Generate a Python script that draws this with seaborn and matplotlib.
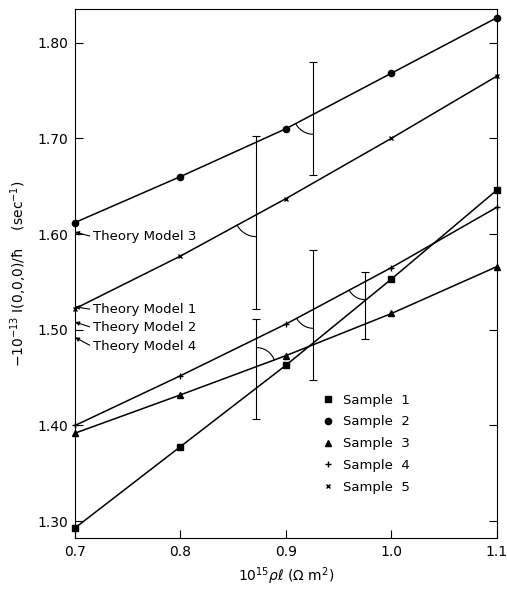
import numpy as np
import matplotlib
matplotlib.use('Agg')
import matplotlib.pyplot as plt
import seaborn as sns
import pandas as pd
from matplotlib.lines import Line2D

# ---------------- data ----------------
x_vals = [0.7, 0.8, 0.9, 1.0, 1.1]
sample1 = [1.293, 1.378, 1.463, 1.553, 1.646]
sample2 = [1.612, 1.660, 1.710, 1.768, 1.826]
sample3 = [1.392, 1.432, 1.473, 1.517, 1.566]
sample4 = [1.400, 1.452, 1.506, 1.565, 1.628]
sample5 = [1.522, 1.577, 1.637, 1.700, 1.765]
sample_names = ["Sample  1", "Sample  2", "Sample  3", "Sample  4", "Sample  5"]
sample_markers = ['s', 'o', '^', '+', 'x']

bar_x = [0.872, 0.926, 0.872, 0.926, 0.975]
bar_low = [1.522, 1.662, 1.407, 1.448, 1.490]
bar_high = [1.702, 1.780, 1.511, 1.583, 1.560]

theory_labels = ["Theory Model 3", "Theory Model 1", "Theory Model 2", "Theory Model 4"]
theory_values = [1.602, 1.524, 1.508, 1.492]
theory_text_y = [1.597, 1.521, 1.502, 1.482]

x_ticks = [0.7, 0.8, 0.9, 1.0, 1.1]
x_ticklabels = ["0.7", "0.8", "0.9", "1.0", "1.1"]
y_ticks = [1.30, 1.40, 1.50, 1.60, 1.70, 1.80]
y_ticklabels = ["1.30", "1.40", "1.50", "1.60", "1.70", "1.80"]

# ---------------- style ----------------
sns.set_style('ticks')
plt.rcParams['font.family'] = ['DejaVu Sans']
plt.rcParams['mathtext.fontset'] = 'dejavusans'
plt.rcParams['text.color'] = 'black'
plt.rcParams['axes.labelcolor'] = 'black'
plt.rcParams['xtick.color'] = 'black'
plt.rcParams['ytick.color'] = 'black'
plt.rcParams['axes.edgecolor'] = 'black'

W, H = 507, 591
fig = plt.figure(figsize=(W / 100, H / 100), dpi=100)
ax_l, ax_r, ax_t, ax_b = 75, 497, 9, 538
ax = fig.add_axes([ax_l / W, 1 - ax_b / H, (ax_r - ax_l) / W, (ax_b - ax_t) / H])

xlim = (0.7, 1.1)
ylim = (1.2825, 1.835)
px_x = (ax_r - ax_l) / (xlim[1] - xlim[0])
px_y = (ax_b - ax_t) / (ylim[1] - ylim[0])

series = [sample1, sample2, sample3, sample4, sample5]
rows = []
for name, vals in zip(sample_names, series):
    for xv, yv in zip(x_vals, vals):
        rows.append({"x": xv, "y": yv, "sample": name})
df = pd.DataFrame(rows)

msizes = {'s': 4.5, 'o': 4.5, '^': 4.5, '+': 5, 'x': 3.5}
for name, mk in zip(sample_names, sample_markers):
    sub = df[df["sample"] == name]
    sns.lineplot(data=sub, x="x", y="y", ax=ax, color='black', lw=1.1,
                 marker=mk, markersize=msizes[mk], markeredgecolor='black',
                 markerfacecolor='black', markeredgewidth=1.0, clip_on=False,
                 legend=False)

# error bars
bar_mid = [(lo + hi) / 2 for lo, hi in zip(bar_low, bar_high)]
bar_err = [(hi - lo) / 2 for lo, hi in zip(bar_low, bar_high)]
ax.errorbar(bar_x, bar_mid, yerr=bar_err, fmt='none', ecolor='black',
            elinewidth=0.8, capsize=3, capthick=0.8)

# angle arcs (annotation)
def arc_at(bx, vals, r_px, to_down=True):
    cy = np.interp(bx, x_vals, vals)
    i = min(np.searchsorted(x_vals, bx), len(x_vals) - 1)
    slope = (vals[i] - vals[i - 1]) / (x_vals[i] - x_vals[i - 1])
    ang = np.degrees(np.arctan(slope * px_y / px_x))
    if to_down:
        a1, a2 = 180 + ang, 270
    else:
        a1, a2 = ang, 90
    t = np.radians(np.linspace(a1, a2, 30))
    ax.plot(bx + r_px * np.cos(t) / px_x, cy + r_px * np.sin(t) / px_y,
            color='black', lw=0.8)

arc_at(bar_x[0], sample5, 22, True)
arc_at(bar_x[1], sample2, 20, True)
arc_at(bar_x[3], sample4, 19, True)
arc_at(bar_x[2], sample3, 19, False)
arc_at(bar_x[4], sample4, 18, True)

# theory model annotations
for lab, tv, ty in zip(theory_labels, theory_values, theory_text_y):
    ax.annotate(lab, xy=(0.7, tv), xytext=(0.717, ty), fontsize=9.5,
                ha='left', va='center',
                arrowprops=dict(arrowstyle='-|>', lw=0.8, color='black',
                                shrinkA=0, shrinkB=0, mutation_scale=6,
                                relpos=(0, 0.5)))

# legend
handles = [Line2D([], [], linestyle='none', marker=mk, color='black',
                  markersize=msizes[mk], markeredgewidth=1.0)
           for mk in sample_markers]
ax.legend(handles, sample_names, frameon=False, loc='upper left',
          bbox_to_anchor=(0.584, 0.273), fontsize=9.5, handlelength=1.0,
          handletextpad=0.6, borderpad=0, borderaxespad=0, labelspacing=0.67)

ax.set_xlim(*xlim)
ax.set_ylim(*ylim)
ax.set_xticks(x_ticks)
ax.set_xticklabels(x_ticklabels)
ax.set_yticks(y_ticks)
ax.set_yticklabels(y_ticklabels)
ax.tick_params(axis='both', direction='in', length=6, width=0.8,
               labelsize=10, right=True, top=False, pad=5)
for s in ax.spines.values():
    s.set_linewidth(0.8)
    s.set_visible(True)

ax.set_xlabel(r"$10^{15}\rho\ell$ ($\Omega$ m$^2$)", fontsize=10, labelpad=5)
ax.set_ylabel(r"$-10^{-13}$ I(0,0,0)/ħ    (sec$^{-1}$)",
              fontsize=10, labelpad=6)

fig.savefig("out.png", dpi=100)
